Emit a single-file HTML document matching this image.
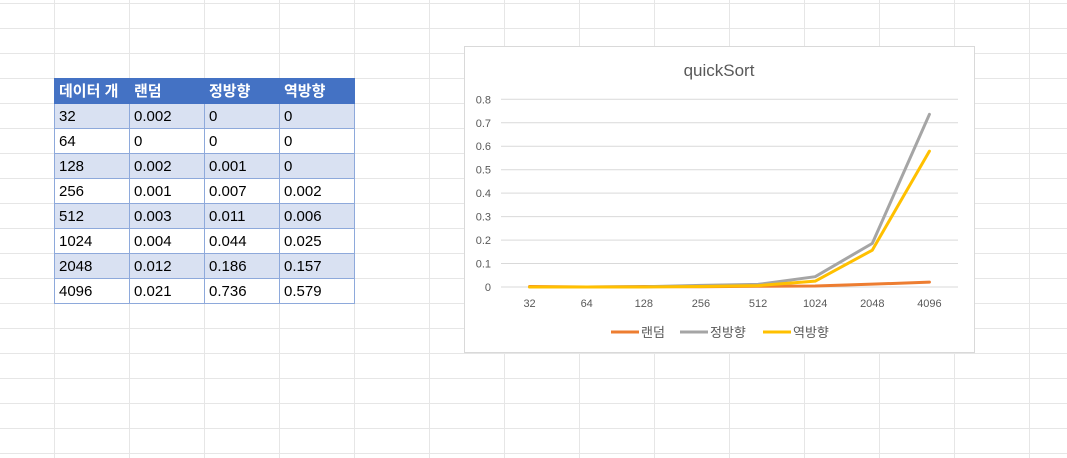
<!DOCTYPE html>
<html><head><meta charset="utf-8">
<style>
body{margin:0;width:1067px;height:458px;overflow:hidden;background:#fff;font-family:"Liberation Sans","Noto Sans CJK KR",sans-serif;position:relative}
#grid{position:absolute;left:0;top:0}
table{position:absolute;left:54px;top:78px;border-collapse:collapse;font-size:15px;table-layout:fixed;width:301px}
td{width:75px;height:25px;padding:0 0 0 4px;border:1px solid #8ea9db;box-sizing:border-box;color:#000;line-height:23px;overflow:hidden;white-space:nowrap}
tr{height:25px}
tr.h td{background:#4472c4;color:#fff;font-weight:bold;border-color:#4472c4}
tr.a td{background:#d9e1f2}
tr.b td{background:#fff}
#chart{position:absolute;left:464px;top:46px;width:511px;height:307px;background:#fff;border:1px solid #d9d9d9;box-sizing:border-box}
</style></head><body>
<svg id="grid" width="1067" height="458"></svg>
<table>
<tr class="h"><td>데이터 개</td><td>랜덤</td><td>정방향</td><td>역방향</td></tr>
<tr class="a"><td>32</td><td>0.002</td><td>0</td><td>0</td></tr>
<tr class="b"><td>64</td><td>0</td><td>0</td><td>0</td></tr>
<tr class="a"><td>128</td><td>0.002</td><td>0.001</td><td>0</td></tr>
<tr class="b"><td>256</td><td>0.001</td><td>0.007</td><td>0.002</td></tr>
<tr class="a"><td>512</td><td>0.003</td><td>0.011</td><td>0.006</td></tr>
<tr class="b"><td>1024</td><td>0.004</td><td>0.044</td><td>0.025</td></tr>
<tr class="a"><td>2048</td><td>0.012</td><td>0.186</td><td>0.157</td></tr>
<tr class="b"><td>4096</td><td>0.021</td><td>0.736</td><td>0.579</td></tr>
</table>
<div id="chart"></div>
<svg id="plot" style="position:absolute;left:0;top:0" width="1067" height="458"></svg>
<script>
const categories=["32","64","128","256","512","1024","2048","4096"];
const random=[0.002,0,0.002,0.001,0.003,0.004,0.012,0.021];
const forward=[0,0,0.001,0.007,0.011,0.044,0.186,0.736];
const reverse=[0,0,0,0.002,0.006,0.025,0.157,0.579];
const yTicks=[0,0.1,0.2,0.3,0.4,0.5,0.6,0.7,0.8];
const NS="http://www.w3.org/2000/svg";
function mk(p,t,a){const e=document.createElementNS(NS,t);for(const k in a)e.setAttribute(k,a[k]);p.appendChild(e);return e;}
const g=document.getElementById('grid');
for(let x=54;x<1067;x+=75){const l=mk(g,'line',{x1:x+0.5,y1:0,x2:x+0.5,y2:458,stroke:'#e6e6e6'});}
for(let y=3;y<458;y+=25){const l=mk(g,'line',{x1:0,y1:y+0.5,x2:1067,y2:y+0.5,stroke:'#e6e6e6'});}
const s=document.getElementById('plot');
const L=501,R=958,Y0=287,Y8=99.3;
const yS=v=>Y0-(v/0.8)*(Y0-Y8);
const step=(R-L)/categories.length;
const xS=i=>L+step*(i+0.5);
const t=mk(s,'text',{x:719,y:76,'text-anchor':'middle','font-size':17,fill:'#595959'});t.textContent='quickSort';

yTicks.forEach(v=>{const y=yS(v);
const l=mk(s,'line',{x1:L,y1:y,x2:R,y2:y,stroke:'#d9d9d9'});
const tx=mk(s,'text',{x:491,y:y+4,'text-anchor':'end','font-size':11,fill:'#595959'});tx.textContent=String(v);});
categories.forEach((c,i)=>{const tx=mk(s,'text',{x:xS(i),y:307,'text-anchor':'middle','font-size':11,fill:'#595959'});tx.textContent=c;});
const series=[["랜덤",random,'#ed7d31'],["정방향",forward,'#a5a5a5'],["역방향",reverse,'#ffc000']];
series.forEach(([n,d,c])=>{const p=mk(s,'polyline',{points:d.map((v,i)=>xS(i)+','+yS(v)).join(' '),fill:'none',stroke:c,'stroke-width':3,'stroke-linejoin':'round','stroke-linecap':'round'});});
const lx=[611,680,763];
series.forEach(([n,d,c],i)=>{const l=mk(s,'line',{x1:lx[i],y1:332,x2:lx[i]+28,y2:332,stroke:c,'stroke-width':3});
const tx=mk(s,'text',{x:lx[i]+30,y:337,'font-size':13,fill:'#595959'});tx.textContent=n;});
</script>
</body></html>
